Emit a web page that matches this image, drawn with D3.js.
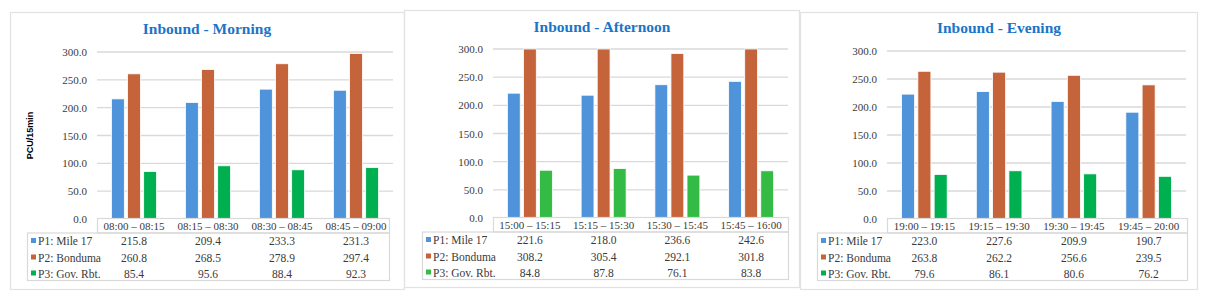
<!DOCTYPE html>
<html>
<head>
<meta charset="utf-8">
<script src="https://cdn.jsdelivr.net/npm/d3@7"></script>
<style>
  body { margin: 0; background: #fff; }
  svg { display: block; }
</style>
</head>
<body>
<div class="chart"></div>
<script>
// data
var seriesNames = ["P1: Mile 17", "P2: Bonduma", "P3: Gov. Rbt."];
var yTicks = [0, 50, 100, 150, 200, 250, 300];

var morningTimes = ["08:00 – 08:15", "08:15 – 08:30", "08:30 – 08:45", "08:45 – 09:00"];
var morningMile17 = [215.8, 209.4, 233.3, 231.3];
var morningBonduma = [260.8, 268.5, 278.9, 297.4];
var morningGovRbt = [85.4, 95.6, 88.4, 92.3];

var afternoonTimes = ["15:00 – 15:15", "15:15 – 15:30", "15:30 – 15:45", "15:45 – 16:00"];
var afternoonMile17 = [221.6, 218.0, 236.6, 242.6];
var afternoonBonduma = [308.2, 305.4, 292.1, 301.8];
var afternoonGovRbt = [84.8, 87.8, 76.1, 83.8];

var eveningTimes = ["19:00 – 19:15", "19:15 – 19:30", "19:30 – 19:45", "19:45 – 20:00"];
var eveningMile17 = [223.0, 227.6, 209.9, 190.7];
var eveningBonduma = [263.8, 262.2, 256.6, 239.5];
var eveningGovRbt = [79.6, 86.1, 80.6, 76.2];

// layout of each panel (pixels)
var panels = [
  {title: "Inbound - Morning", times: morningTimes, values: [morningMile17, morningBonduma, morningGovRbt],
   box: [10, 12, 404, 289], gridX: [97, 393], tableRight: 389, yRange: [219, 52], legendLeft: 27,
   titleX: 207, titleY: 34, yLabel: "PCU/15min", colors: ["#4f94da", "#c5643a", "#00b050"]},
  {title: "Inbound - Afternoon", times: afternoonTimes, values: [afternoonMile17, afternoonBonduma, afternoonGovRbt],
   box: [404, 10, 799, 287], gridX: [493, 788], tableRight: 788, yRange: [218, 49], legendLeft: 422,
   titleX: 602, titleY: 32, yLabel: null, colors: ["#4f94da", "#c5643a", "#33bb45"]},
  {title: "Inbound - Evening", times: eveningTimes, values: [eveningMile17, eveningBonduma, eveningGovRbt],
   box: [800, 12, 1197, 289], gridX: [887, 1186], tableRight: 1187, yRange: [219, 51], legendLeft: 817,
   titleX: 999, titleY: 33, yLabel: null, colors: ["#4f94da", "#c5643a", "#00b050"]}
];

var serif = "'Liberation Serif'";
var gridColor = "#d9d9d9";
var textColor = "#3a3a3a";

var svg = d3.select(".chart").append("svg")
  .attr("width", 1207)
  .attr("height", 300);

panels.forEach(function(p) {
  var g = svg.append("g");

  // panel border
  g.append("rect")
    .attr("x", p.box[0] + 0.5).attr("y", p.box[1] + 0.5)
    .attr("width", p.box[2] - p.box[0]).attr("height", p.box[3] - p.box[1])
    .attr("fill", "none").attr("stroke", "#e2e2e2").attr("stroke-width", 1.2);

  var y = d3.scaleLinear().domain([0, 300]).range(p.yRange).clamp(true);
  var x0 = d3.scaleBand().domain(p.times).range(p.gridX);
  var bw = x0.bandwidth();
  var x1 = d3.scaleBand().domain([0, 1, 2])
    .range([bw * 0.195, bw * 0.805]).paddingInner(0.2);

  // title
  g.append("text")
    .style("font-family", serif)
    .attr("x", p.titleX).attr("y", p.titleY)
    .attr("text-anchor", "middle")
    .attr("font-weight", "bold").attr("font-size", 15.5)
    .attr("fill", "#1a75c9")
    .text(p.title);

  // grid + tick labels
  g.selectAll(".grid").data(yTicks.slice(1)).enter().append("line")
    .attr("x1", p.gridX[0]).attr("x2", p.gridX[1])
    .attr("y1", function(d) { return y(d); }).attr("y2", function(d) { return y(d); })
    .attr("stroke", gridColor).attr("stroke-width", 1.3);

  g.selectAll(".tick").data(yTicks).enter().append("text")
    .style("font-family", serif)
    .attr("x", p.gridX[0] - 10)
    .attr("y", function(d) { return y(d) + 4; })
    .attr("text-anchor", "end")
    .attr("font-size", 11).attr("fill", textColor)
    .text(function(d) { return d3.format(".1f")(d); });

  if (p.yLabel) {
    g.append("text")
      .style("font-family", "'Liberation Sans'")
      .attr("transform", "translate(" + (p.box[0] + 23) + "," + ((p.yRange[0] + p.yRange[1]) / 2) + ") rotate(-90)")
      .attr("text-anchor", "middle")
      .attr("font-weight", "bold").attr("font-size", 9)
      .attr("fill", "#000")
      .text(p.yLabel);
  }

  // bars
  p.times.forEach(function(t, i) {
    var grp = g.append("g").attr("transform", "translate(" + x0(t) + ",0)");
    p.values.forEach(function(vals, s) {
      grp.append("rect")
        .attr("x", x1(s))
        .attr("y", y(vals[i]))
        .attr("width", x1.bandwidth())
        .attr("height", y(0) - y(vals[i]))
        .attr("fill", p.colors[s])
        .attr("stroke", "#fff").attr("stroke-width", 0.8);
    });
  });

  // data table
  var headTop = p.yRange[0] - 0.5;
  var headBottom = headTop + 14.5;
  var tableBottom = headBottom + 47.5;
  g.append("rect")
    .attr("x", p.gridX[0] + 0.5).attr("y", headTop)
    .attr("width", p.tableRight - p.gridX[0]).attr("height", headBottom - headTop)
    .attr("fill", "none").attr("stroke", gridColor).attr("stroke-width", 1.2);
  g.append("rect")
    .attr("x", p.legendLeft + 0.5).attr("y", headBottom)
    .attr("width", p.tableRight - p.legendLeft).attr("height", tableBottom - headBottom)
    .attr("fill", "none").attr("stroke", gridColor).attr("stroke-width", 1.2);

  g.selectAll(".cat").data(p.times).enter().append("text")
    .style("font-family", serif)
    .attr("x", function(d) { return x0(d) + bw / 2; })
    .attr("y", headTop + 11)
    .attr("text-anchor", "middle")
    .attr("font-size", 11).attr("fill", textColor)
    .text(function(d) { return d; });

  var rowY = [headBottom + 12, headBottom + 28.5, headBottom + 44.5];
  seriesNames.forEach(function(name, s) {
    g.append("rect")
      .attr("x", p.legendLeft + 4).attr("y", rowY[s] - 7)
      .attr("width", 5).attr("height", 5)
      .attr("fill", p.colors[s]);
    g.append("text")
      .style("font-family", serif)
      .attr("x", p.legendLeft + 11).attr("y", rowY[s])
      .attr("font-size", 11.5).attr("fill", textColor)
      .text(name);
    g.selectAll(".v" + s).data(p.values[s]).enter().append("text")
      .style("font-family", serif)
      .attr("x", function(d, i) { return x0(p.times[i]) + bw / 2; })
      .attr("y", rowY[s])
      .attr("text-anchor", "middle")
      .attr("font-size", 11.5).attr("fill", textColor)
      .text(function(d) { return d3.format(".1f")(d); });
  });
});
</script>
</body>
</html>
